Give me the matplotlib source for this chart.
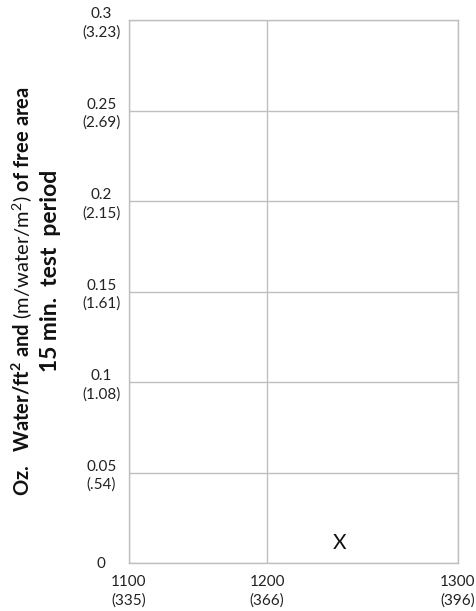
import numpy as np
import matplotlib
matplotlib.use("Agg")
import matplotlib.pyplot as plt

plt.rcParams['font.family'] = ['Lato', 'DejaVu Sans']
plt.rcParams['mathtext.fontset'] = 'custom'
plt.rcParams['mathtext.rm'] = 'Lato'
plt.rcParams['mathtext.bf'] = 'Lato:bold'
plt.rcParams['mathtext.it'] = 'Lato:italic'

# Data
x_ticks = [1100, 1200, 1300]
x_labels = ["1100\n(335)", "1200\n(366)", "1300\n(396)"]
y_ticks = [0, 0.05, 0.10, 0.15, 0.20, 0.25, 0.30]
y_labels = ["0", "0.05\n(.54)", "0.1\n(1.08)", "0.15\n(1.61)",
            "0.2\n(2.15)", "0.25\n(2.69)", "0.3\n(3.23)"]
point_x = [1238]
point_y = [0.011]

# the reference's x axis is not evenly spaced between ticks
tick_frac = [0, 0.42, 1.0]
def fwd(v):
    return np.interp(v, x_ticks, tick_frac)
def inv(v):
    return np.interp(v, tick_frac, x_ticks)

fig = plt.figure(figsize=(4.77, 6.11), dpi=100)
ax = fig.add_axes([129/477, 1-563/611, (458-129)/477, (563-20)/611])
ax.set_xscale('function', functions=(fwd, inv))
ax.set_xlim(1100, 1300)
ax.set_ylim(0, 0.3)

grid_c = "#bfbfbf"
ax.set_xticks(x_ticks)
ax.set_xticklabels(x_labels, fontsize=11, color="#222222", linespacing=1.35)
ax.set_yticks(y_ticks)
ax.set_yticklabels(y_labels, fontsize=11, color="#222222", linespacing=1.35)
for lab in ax.get_yticklabels():
    lab.set_horizontalalignment('center')
    lab.set_multialignment('center')
for lab in ax.get_xticklabels():
    lab.set_multialignment('center')
ax.tick_params(axis='y', length=0, pad=20)
ax.tick_params(axis='x', length=0, pad=9)
ax.grid(True, color=grid_c, linewidth=1)
for s in ax.spines.values():
    s.set_color(grid_c)
    s.set_linewidth(1)

for px, py in zip(point_x, point_y):
    ax.text(px, py, "X", fontsize=15, ha='center', va='center', color="#111111")

fig.text(22/477, 1-291/611,
         r"$\mathbf{Oz.\ \ Water/ft^2\ and}$ (m/water/m$^{2}$) $\mathbf{of\ free\ area}$",
         rotation=90, ha='center', va='center', fontsize=14.5, color="#111111")
fig.text(51/477, 1-271/611, "15 min.  test  period", rotation=90,
         ha='center', va='center', fontsize=16.5, fontweight='bold', color="#111111")

fig.savefig("out.png", dpi=100)
